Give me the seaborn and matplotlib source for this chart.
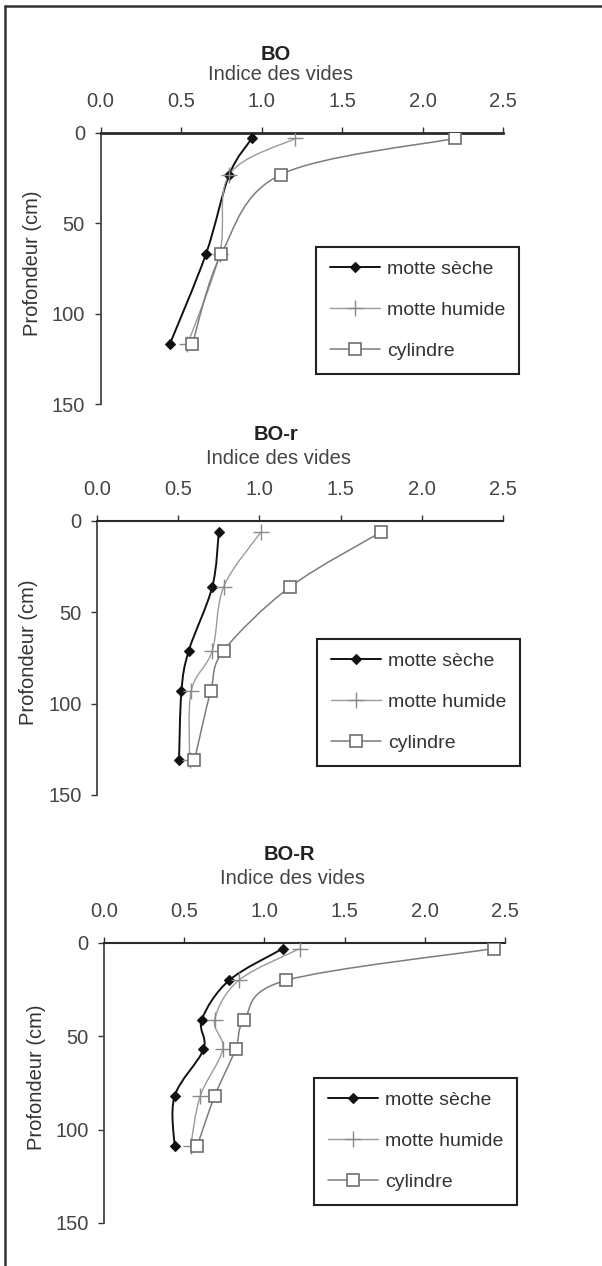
import numpy as np
import pandas as pd
import matplotlib
matplotlib.use("Agg")
import matplotlib.pyplot as plt
from matplotlib.lines import Line2D
from matplotlib.path import Path
from matplotlib.patches import PathPatch
import seaborn as sns

sns.set_theme(style="white")
plt.rcParams["font.family"] = ["Liberation Sans", "DejaVu Sans"]

# Profiles: depth (cm) and void ratio for each sampling method
series_names = ["motte sèche", "motte humide", "cylindre"]

bo_depth = [3, 23, 67, 117]
bo_seche = [0.94, 0.80, 0.655, 0.43]
bo_humide = [1.21, 0.80, 0.74, 0.54]
bo_cylindre = [2.20, 1.12, 0.75, 0.57]

bor_depth = [6, 36, 71, 93, 131]
bor_seche = [0.75, 0.71, 0.565, 0.52, 0.505]
bor_humide = [1.01, 0.78, 0.71, 0.58, 0.57]
bor_cylindre = [1.75, 1.19, 0.78, 0.70, 0.60]

boR_depth = [3, 20, 41, 57, 82, 109]
boR_seche = [1.115, 0.78, 0.61, 0.62, 0.44, 0.44]
boR_humide = [1.22, 0.84, 0.69, 0.74, 0.60, 0.54]
boR_cylindre = [2.43, 1.135, 0.875, 0.82, 0.69, 0.58]

panel_titles = ["BO", "BO-r", "BO-R"]
x_label = "Indice des vides"
y_label = "Profondeur (cm)"
x_ticks = [0.0, 0.5, 1.0, 1.5, 2.0, 2.5]
y_ticks = [0, 50, 100, 150]

panels = [
    (bo_depth, [bo_seche, bo_humide, bo_cylindre]),
    (bor_depth, [bor_seche, bor_humide, bor_cylindre]),
    (boR_depth, [boR_seche, boR_humide, boR_cylindre]),
]

W, H = 602, 1266
fig = plt.figure(figsize=(W / 100, H / 100), dpi=100)
fig.patch.set_facecolor("white")

# axes boxes in pixels: left, right, top, bottom
boxes = [(100.5, 503, 133, 404), (97, 503, 521, 795), (104, 505, 943, 1223)]
# title / axis-name centres in pixels
title_pos = [((276, 54), (280, 74)), ((276, 434), (278, 459)), ((289, 854), (293, 879))]
legend_tl = [(316, 247), (317, 639), (314, 1078)]

line_styles = {
    "motte sèche": dict(color="#111111", linewidth=1.4),
    "motte humide": dict(color="#9a9a9a", linewidth=1.0),
    "cylindre": dict(color="#7c7c7c", linewidth=1.1),
}
marker_styles = {
    "motte sèche": dict(marker="D", markersize=5, markerfacecolor="#111111",
                        markeredgecolor="#111111", markeredgewidth=0.8),
    "motte humide": dict(marker="+", markersize=11, markerfacecolor="#8a8a8a",
                         markeredgecolor="#8a8a8a", markeredgewidth=1.0),
    "cylindre": dict(marker="s", markersize=8, markerfacecolor="white",
                     markeredgecolor="#6e6e6e", markeredgewidth=1.2),
}


def smooth_path(xs, ys):
    """Cubic Bezier path through the points (smoothed polyline)."""
    pts = np.column_stack([xs, ys]).astype(float)
    n = len(pts)
    verts = [pts[0]]
    codes = [Path.MOVETO]
    for k in range(n - 1):
        p0 = pts[k - 1] if k > 0 else pts[k]
        p1, p2 = pts[k], pts[k + 1]
        p3 = pts[k + 2] if k + 2 < n else pts[k + 1]
        verts += [p1 + (p2 - p0) / 6.0, p2 - (p3 - p1) / 6.0, p2]
        codes += [Path.CURVE4] * 3
    return Path(verts, codes)


handles = [
    Line2D([], [], label=name, **line_styles[name], **marker_styles[name])
    for name in series_names
]

for i, ((depth, vals), (l, r, t, b)) in enumerate(zip(panels, boxes)):
    ax = fig.add_axes([l / W, 1 - b / H, (r - l) / W, (b - t) / H])
    ax.set_facecolor("white")
    ax.set_xlim(0, 2.5)
    ax.set_ylim(150, 0)
    for name, v in zip(series_names, vals):
        ax.add_patch(PathPatch(smooth_path(v, depth), facecolor="none",
                               edgecolor=line_styles[name]["color"],
                               linewidth=line_styles[name]["linewidth"], zorder=2))
        df = pd.DataFrame({"indice": v, "profondeur": depth})
        sns.lineplot(data=df, x="indice", y="profondeur", sort=False,
                     estimator=None, ax=ax, linestyle="none", zorder=3,
                     legend=False, **marker_styles[name])
    ax.set_xlim(0, 2.5)
    ax.set_ylim(150, 0)
    ax.xaxis.tick_top()
    ax.set_xticks(x_ticks)
    ax.set_xticklabels([f"{x:.1f}" for x in x_ticks])
    ax.set_yticks(y_ticks)
    ax.set_xlabel("")
    ax.set_ylabel(y_label, fontsize=14.5, color="#333333")
    ax.yaxis.set_label_coords(-0.145, 0.52)
    for side in ["right", "bottom"]:
        ax.spines[side].set_visible(False)
    ax.spines["top"].set_color("#2a2a2a")
    ax.spines["top"].set_linewidth(2.0 if i == 0 else 1.5)
    ax.spines["left"].set_color("#444444")
    ax.spines["left"].set_linewidth(1.3)
    ax.tick_params(axis="x", which="major", top=True, bottom=False, direction="out",
                   length=4, width=1.0, color="#333333", pad=12.0,
                   labelsize=14.5, labelcolor="#444444")
    ax.tick_params(axis="y", which="major", left=True, direction="out",
                   length=4, width=1.0, color="#333333", pad=7.2,
                   labelsize=14.5, labelcolor="#444444")
    ax.grid(False)

    lx, ly = legend_tl[i]
    leg = ax.legend(handles=handles, loc="upper left",
                    bbox_to_anchor=((lx - l) / (r - l), (b - ly) / (b - t)),
                    borderaxespad=0, fontsize=14, handlelength=2.6,
                    handletextpad=0.35, labelspacing=1.2, borderpad=0.7,
                    frameon=True, fancybox=False, framealpha=1)
    leg.get_frame().set_edgecolor("#222222")
    leg.get_frame().set_linewidth(1.5)
    for txt in leg.get_texts():
        txt.set_color("#333333")

    (tx, ty), (sx, sy) = title_pos[i]
    fig.text(tx / W, 1 - ty / H, panel_titles[i], ha="center", va="center",
             fontsize=14.5, fontweight="bold", color="#222222")
    fig.text(sx / W, 1 - sy / H, x_label, ha="center", va="center",
             fontsize=14.5, color="#444444")

# frame lines along the top and left of the figure
fig.add_artist(Line2D([5 / W, 1], [1 - 6 / H, 1 - 6 / H], transform=fig.transFigure,
                      color="#333333", linewidth=1.8))
fig.add_artist(Line2D([5 / W, 5 / W], [0, 1 - 6 / H], transform=fig.transFigure,
                      color="#333333", linewidth=1.8))

fig.savefig("out.png", dpi=100, facecolor="white")
